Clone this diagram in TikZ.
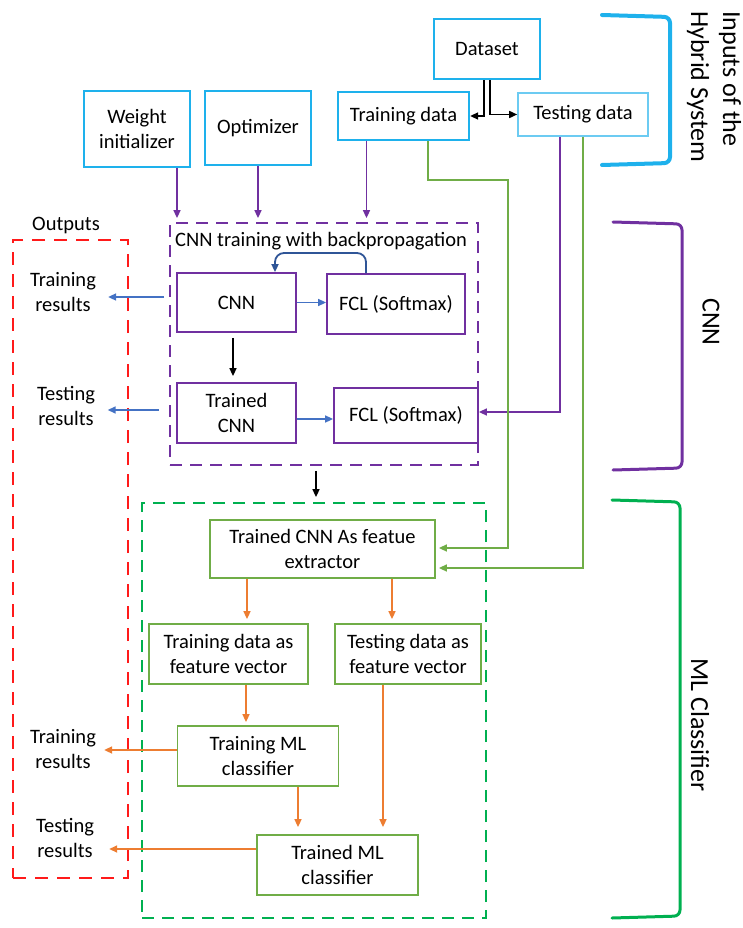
\documentclass[tikz,border=0pt]{standalone}
\usepackage{fontspec}
\setmainfont{Carlito}
\usetikzlibrary{arrows.meta}
\definecolor{cyanb}{HTML}{1EB1EC}
\definecolor{cyanl}{HTML}{6CCBF2}
\definecolor{purp}{HTML}{7030A0}
\definecolor{grnbox}{HTML}{70AD47}
\definecolor{grndash}{HTML}{00B050}
\definecolor{redd}{HTML}{FF1A1A}
\definecolor{orng}{HTML}{ED7D31}
\definecolor{bluea}{HTML}{4472C4}
\definecolor{blued}{HTML}{2F5597}
\newcommand{\fnt}{\fontsize{20.5}{25}\selectfont}
\newcommand{\sidefnt}{\fontsize{26}{32}\selectfont}
\tikzset{
  base/.style={font=\fnt, align=center, inner sep=2pt, text=black},
  cbox/.style={base, draw=cyanb, line width=2.3pt},
  cboxl/.style={base, draw=cyanl, line width=1.6pt},
  pbox/.style={base, draw=purp, line width=1.8pt},
  gbox/.style={base, draw=grnbox, line width=1.8pt},
  pframe/.style={draw=purp, line width=1.8pt, dash pattern=on 12pt off 8pt},
  gframe/.style={draw=grndash, line width=1.8pt, dash pattern=on 12pt off 8pt},
  rframe/.style={draw=redd, line width=2pt, dash pattern=on 13pt off 9pt},
  lbl/.style={base},
  sidelbl/.style={font=\sidefnt, text=black, inner sep=0pt},
  tip/.style={-{Triangle[length=8pt,width=7pt]}},
  karrow/.style={tip, draw=black, line width=1.6pt},
  parrow/.style={tip, draw=purp, line width=1.6pt, shorten >=4pt},
  garrow/.style={tip, draw=grnbox, line width=1.6pt, shorten >=3pt},
  barrow/.style={tip, draw=bluea, line width=1.6pt},
  bparrow/.style={tip, draw=blued, line width=1.8pt},
  oarrow/.style={tip, draw=orng, line width=1.6pt},
  brace/.style={rounded corners=6pt, line cap=round},
}
\begin{document}
\begin{tikzpicture}[x=1pt,y=-1pt]
\useasboundingbox (0,0) rectangle (743,928);

% ---------- inputs ----------
\node[cbox, minimum width=106pt, minimum height=60pt] (ds) at (487,49) {Dataset};
\node[cbox, minimum width=131pt, minimum height=48pt] (tr) at (403.5,116) {Training data};
\node[cboxl, minimum width=130pt, minimum height=43pt] (te) at (583,114.5) {Testing data};
\node[cbox, minimum width=106pt, minimum height=76pt] (wi) at (137,129) {Weight\\initializer};
\node[cbox, minimum width=106pt, minimum height=74pt] (op) at (258,128) {Optimizer};

% ---------- frames ----------
\node[pframe, minimum width=308pt, minimum height=242pt] (cnnfrm) at (324,344) {};
\node[rframe, minimum width=115pt, minimum height=638pt] (outfrm) at (70.5,559) {};
\node[gframe, minimum width=344pt, minimum height=415pt] (mlfrm) at (314,710.5) {};

\node[lbl] (cnnttl) at (321,241) {CNN training with backpropagation};
\node[lbl] (outttl) at (66,225) {Outputs};

% ---------- CNN part ----------
\node[pbox, minimum width=119pt, minimum height=59pt] (cnn) at (236.5,302.5) {CNN};
\node[pbox, minimum width=138pt, minimum height=60pt] (fcl1) at (396,304) {FCL (Softmax)};
\node[pbox, minimum width=119pt, minimum height=60pt] (tcnn) at (236.5,413) {Trained\\CNN};
\node[pbox, minimum width=144pt, minimum height=55pt] (fcl2) at (406,415.5) {FCL (Softmax)};

% ---------- ML part ----------
\node[gbox, minimum width=225pt, minimum height=58pt] (ext) at (322.5,549) {Trained CNN As featue\\extractor};
\node[gbox, minimum width=159pt, minimum height=60pt] (trfv) at (228.5,654) {Training data as\\feature vector};
\node[gbox, minimum width=146pt, minimum height=60pt] (tefv) at (408,654) {Testing data as\\feature vector};
\node[gbox, minimum width=161pt, minimum height=60pt] (trml) at (258,756) {Training ML\\classifier};
\node[gbox, minimum width=161pt, minimum height=60pt] (tdml) at (337.5,865) {Trained ML\\classifier};

% ---------- outputs ----------
\node[lbl] (res1) at (63,292) {Training\\results};
\node[lbl] (res2) at (66,406) {Testing\\results};
\node[lbl] (res3) at (63,749) {Training\\results};
\node[lbl] (res4) at (65,838) {Testing\\results};

% ---------- connectors: dataset split ----------
\draw[karrow] ([xshift=-3pt]ds.south) |- (tr.east);
\draw[karrow] ([xshift=3pt]ds.south) |- (te.west);

% ---------- purple inputs ----------
\draw[parrow] ([xshift=40pt]wi.south) -- ([xshift=40pt]wi.south |- cnnfrm.north);
\draw[parrow] (op.south) -- (op.south |- cnnfrm.north);
\draw[parrow] ([xshift=-37pt]tr.south) -- ([xshift=-37pt]tr.south |- cnnfrm.north);
\draw[tip, draw=purp, line width=1.6pt] ([xshift=-23pt]te.south) |- ([yshift=3.5pt]fcl2.east);

% ---------- green inputs ----------
\coordinate (gk) at (508,180);
\draw[garrow] ([xshift=24.5pt]tr.south) |- (gk) |- ([yshift=1pt]ext.east);
\draw[garrow] (te.south) |- ([yshift=-19pt]ext.east);

% ---------- CNN internal ----------
\draw[barrow] (cnn.east) -- (fcl1.west |- cnn.east);
\draw[barrow] ([yshift=-6pt]tcnn.east) -- ([yshift=-6pt]tcnn.east -| fcl2.west);
\coordinate (bpk) at (275,253);
\draw[bparrow, rounded corners=9pt] ([xshift=-30pt]fcl1.north) |- (bpk) -- ([xshift=38.5pt]cnn.north);
\draw[karrow, shorten <=5pt, shorten >=6pt] ([xshift=-3.5pt]cnn.south) -- ([xshift=-3.5pt]tcnn.north);
\draw[karrow, shorten <=5pt, shorten >=5pt] ([xshift=-8pt]cnnfrm.south) -- ([xshift=-8pt]cnnfrm.south |- mlfrm.north);

% ---------- CNN outputs ----------
\draw[barrow] ([xshift=-5pt,yshift=-5pt]cnnfrm.west |- res1.center) -- ([xshift=10pt,yshift=-5pt]res1.east);
\draw[barrow] ([xshift=-10pt,yshift=-4pt]cnnfrm.west |- res2.center) -- ([xshift=10.5pt,yshift=-4pt]res2.east);

% ---------- ML internal ----------
\draw[oarrow, shorten >=4pt] ([xshift=-75.5pt]ext.south) -- ([xshift=-75.5pt]ext.south |- trfv.north);
\draw[oarrow, shorten >=4pt] ([xshift=69.5pt]ext.south) -- ([xshift=69.5pt]ext.south |- tefv.north);
\draw[oarrow, shorten >=3pt] ([xshift=17.5pt]trfv.south) -- ([xshift=17.5pt]trfv.south |- trml.north);
\draw[oarrow, shorten >=7pt] ([xshift=40pt]trml.south) -- ([xshift=40pt]trml.south |- tdml.north);
\draw[oarrow, shorten >=7pt] ([xshift=-25pt]tefv.south) -- ([xshift=-25pt]tefv.south |- tdml.north);

% ---------- ML outputs ----------
\draw[oarrow, shorten >=6pt] ([yshift=6pt]trml.west) -- ([yshift=6pt]trml.west -| res3.east);
\draw[oarrow, shorten >=13pt] ([yshift=16pt]tdml.west) -- ([yshift=16pt]tdml.west -| res4.east);

% ---------- braces ----------
\draw[brace, draw=cyanb, line width=4pt] (602,15) -- (670,17) -- (670,163) -- (602,165);
\draw[brace, draw=purp, line width=3pt] (613,222) -- (682,224) -- (682,468) -- (613,470);
\draw[brace, draw=grndash, line width=3pt] (612,500) -- (680,502) -- (680,916) -- (612,918);

\node[sidelbl, rotate=-90, align=left] (lin) at (714,87) {Inputs of the\\Hybrid System};
\node[sidelbl, rotate=-90] (lcnn) at (711,322) {CNN};
\node[sidelbl, rotate=-90] (lml) at (700,725) {ML Classifier};
\end{tikzpicture}
\end{document}
